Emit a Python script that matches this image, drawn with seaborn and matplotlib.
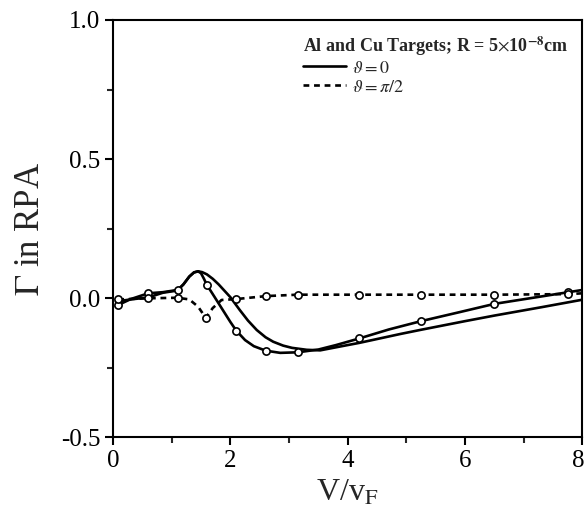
import numpy as np
import pandas as pd
import matplotlib
matplotlib.use("Agg")
import matplotlib.pyplot as plt
import matplotlib.transforms as mtransforms
from matplotlib.lines import Line2D
from matplotlib.ticker import MultipleLocator, FormatStrFormatter
import seaborn as sns

# ---- data ----
# solid curve with markers (theta = 0, first target)
solid_a_x = [0.05, 0.09, 0.3, 0.6, 0.85, 1.1, 1.2, 1.3, 1.38, 1.45, 1.5, 1.55, 1.6, 1.7, 1.85, 2.0, 2.1,
             2.25, 2.4, 2.6, 2.85, 3.15, 3.5, 3.8, 4.2, 4.7, 5.25, 5.9, 6.5, 7.1, 7.76, 8.0]
solid_a_y = [-0.03, -0.024, -0.003, 0.018, 0.022, 0.03, 0.05, 0.078, 0.093, 0.097, 0.09, 0.07, 0.048, 0.015,
             -0.035, -0.085, -0.116, -0.15, -0.172, -0.188, -0.196, -0.194, -0.184, -0.168, -0.144, -0.112,
             -0.082, -0.05, -0.02, 0.0, 0.022, 0.03]
# solid curve without markers (theta = 0, second target)
solid_b_x = [0.05, 0.3, 0.6, 0.85, 1.1, 1.2, 1.3, 1.38, 1.45, 1.52, 1.6, 1.7, 1.8, 1.9, 2.0, 2.16, 2.3,
             2.45, 2.6, 2.73, 2.9, 3.05, 3.3, 3.53, 3.9, 4.2, 4.9, 5.25, 6.0, 6.5, 7.3, 8.0]
solid_b_y = [-0.012, -0.004, 0.003, 0.02, 0.028, 0.05, 0.078, 0.093, 0.097, 0.094, 0.086, 0.07, 0.05, 0.027,
             0.004, -0.042, -0.08, -0.114, -0.14, -0.156, -0.17, -0.178, -0.185, -0.187, -0.172, -0.16,
             -0.128, -0.113, -0.082, -0.062, -0.032, -0.005]
# dashed curve (theta = pi/2)
dash_x = [0.09, 0.6, 1.1, 1.3, 1.45, 1.58, 1.7, 1.85, 2.09, 2.61, 3.15, 4.2, 5.25, 6.5, 7.76, 8.0]
dash_y = [-0.004, 0.0, 0.002, -0.004, -0.03, -0.07, -0.035, -0.006, -0.003, 0.008, 0.013, 0.013, 0.013,
          0.013, 0.015, 0.018]
# open-circle markers
mark_a_x = [0.09, 0.6, 1.1, 1.6, 2.1, 2.6, 3.15, 4.2, 5.25, 6.5, 7.76]
mark_a_y = [-0.024, 0.018, 0.03, 0.048, -0.116, -0.188, -0.194, -0.144, -0.082, -0.02, 0.022]
mark_d_x = [0.09, 0.6, 1.1, 1.58, 2.09, 2.61, 3.15, 4.2, 5.25, 6.5, 7.76]
mark_d_y = [-0.004, 0.0, 0.002, -0.07, -0.003, 0.008, 0.013, 0.013, 0.013, 0.013, 0.015]

x_ticks = [0, 2, 4, 6, 8]
y_ticks = [-0.5, 0.0, 0.5, 1.0]

sns.set_theme(style="ticks")
plt.rcParams["font.family"] = ["Liberation Serif", "DejaVu Serif"]
plt.rcParams["mathtext.fontset"] = "stix"
plt.rcParams["axes.unicode_minus"] = False

fig = plt.figure(figsize=(5.87, 5.25), dpi=100)
ax = fig.add_axes([0.1925, 0.1667, 0.7998, 0.7953])

lw = 1.9
dash_pat = (2.2, 1.8)
sns.lineplot(x=solid_a_x, y=solid_a_y, ax=ax, color="black", lw=lw, sort=False, estimator=None)
sns.lineplot(x=solid_b_x, y=solid_b_y, ax=ax, color="black", lw=lw, sort=False, estimator=None)
sns.lineplot(x=dash_x, y=dash_y, ax=ax, color="black", lw=lw, sort=False, estimator=None)
ax.lines[-1].set_dashes(dash_pat)
for ln in ax.lines:
    ln.set_solid_joinstyle("round")
for mx, my in [(mark_a_x, mark_a_y), (mark_d_x, mark_d_y)]:
    ax.plot(mx, my, ls="none", marker="o", ms=5.2, mfc="white", mec="black", mew=1.2, zorder=5)

ax.set_xlim(0, 8)
ax.set_ylim(-0.5, 1.0)
ax.set_xticks(x_ticks)
ax.set_yticks(y_ticks)
ax.xaxis.set_minor_locator(MultipleLocator(1))
ax.yaxis.set_minor_locator(MultipleLocator(0.25))
ax.yaxis.set_major_formatter(FormatStrFormatter("%.1f"))
ax.tick_params(axis="both", which="major", direction="out", length=6, width=1.5,
               labelsize=18, colors="black", pad=3)
ax.tick_params(axis="both", which="minor", direction="out", length=4, width=1.5)
ax.tick_params(top=False, right=False, which="both")
for s in ax.spines.values():
    s.set_linewidth(1.5)
    s.set_color("black")

# nudge the last x tick label so it is not clipped at the figure edge
fig.canvas.draw()
last = ax.get_xticklabels()[-1]
last.set_transform(last.get_transform() + mtransforms.ScaledTranslation(-4 / 100, 0, fig.dpi_scale_trans))

ax.set_xlabel(r"V/v$_\mathrm{F}$", fontsize=23, labelpad=5)
ax.set_ylabel(r"$\Gamma$ in RPA", fontsize=25, labelpad=10)

handles = [Line2D([], [], color="black", lw=lw),
           Line2D([], [], color="black", lw=lw, dashes=dash_pat)]
leg = ax.legend(handles, [r"$\vartheta = 0$", r"$\vartheta = \pi/2$"],
                title=r"Al and Cu Targets; R = 5$\times$10$^{\mathbf{-8}}$cm",
                loc="upper right", frameon=False, fontsize=13,
                handlelength=2.4, handletextpad=0.3, labelspacing=0.1,
                borderaxespad=0.4, alignment="left")
leg.get_title().set_fontweight("bold")
leg.get_title().set_fontsize(13)

fig.savefig("out.png", dpi=100)
